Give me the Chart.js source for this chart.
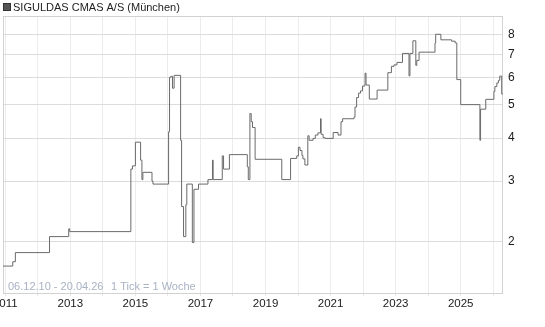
<!DOCTYPE html>
<html>
<head>
<meta charset="utf-8">
<script src="https://cdn.jsdelivr.net/npm/chart.js@4/dist/chart.umd.min.js"></script>
<style>
  html, body { margin: 0; padding: 0; background: #fff; }
  #wrap { width: 545px; height: 327px; position: relative; }
</style>
</head>
<body>
<div id="wrap"><canvas id="c" width="545" height="327"></canvas></div>
<script>
const seriesName = 'SIGULDAS CMAS A/S (München)';
const rangeText = '06.12.10 - 20.04.26';
const tickText = '1 Tick = 1 Woche';

// decimal-year dates of each price change
const dates = [
  2010.93, 2011.23, 2011.31, 2012.36, 2012.95, 2012.98, 2014.86, 2014.91, 2015.00, 2015.16,
  2015.20, 2015.23, 2015.51, 2015.54, 2016.02, 2016.05, 2016.09, 2016.14, 2016.19, 2016.39,
  2016.42, 2016.48, 2016.55, 2016.58, 2016.75, 2016.80, 2016.94, 2017.23, 2017.37, 2017.39,
  2017.67, 2017.71, 2017.89, 2018.44, 2018.47, 2018.52, 2018.56, 2018.60, 2018.68, 2019.50,
  2019.77, 2019.96, 2020.01, 2020.06, 2020.12, 2020.15, 2020.21, 2020.30, 2020.34, 2020.46,
  2020.53, 2020.61, 2020.69, 2020.71, 2020.77, 2020.83, 2021.08, 2021.23, 2021.32, 2021.37,
  2021.72, 2021.75, 2021.80, 2021.86, 2021.92, 2021.98, 2022.05, 2022.06, 2022.09, 2022.19,
  2022.43, 2022.76, 2022.87, 2022.95, 2023.04, 2023.21, 2023.41, 2023.44, 2023.53, 2023.62,
  2023.65, 2023.72, 2024.21, 2024.23, 2024.39, 2024.72, 2024.83, 2024.88, 2025.00, 2025.59,
  2025.61, 2025.77, 2026.02, 2026.05, 2026.11, 2026.16, 2026.20, 2026.26, 2026.30
];
const prices = [
  1.70, 1.75, 1.86, 2.07, 2.18, 2.14, 3.25, 3.32, 3.89, 3.45,
  3.03, 3.18, 3.00, 2.94, 4.17, 6.00, 6.04, 5.58, 6.08, 3.94,
  2.53, 2.07, 2.56, 2.94, 1.99, 2.84, 2.94, 3.03, 3.45, 3.03,
  3.55, 3.25, 3.58, 3.30, 3.03, 4.71, 4.46, 4.29, 3.47, 3.03,
  3.49, 3.55, 3.76, 3.68, 3.56, 3.48, 3.34, 4.06, 3.94, 3.99,
  4.08, 4.14, 4.55, 4.10, 4.01, 3.99, 4.15, 4.08, 4.46, 4.55,
  4.60, 4.92, 5.24, 5.40, 5.48, 5.66, 5.70, 6.17, 5.70, 5.19,
  5.51, 6.19, 6.46, 6.52, 6.63, 7.04, 6.06, 7.04, 7.66, 6.50,
  6.72, 7.10, 7.55, 8.00, 7.71, 7.64, 7.55, 5.91, 5.00, 3.94,
  4.85, 5.18, 5.46, 5.64, 5.78, 5.88, 6.05, 5.37, 5.37
];

const yTicks = [2, 3, 4, 5, 6, 7, 8];
const xTickYears = [2011, 2012, 2013, 2014, 2015, 2016, 2017, 2018, 2019, 2020, 2021, 2022, 2023, 2024, 2025, 2026];
const xTickLabels = ['2011', '', '2013', '', '2015', '', '2017', '', '2019', '', '2021', '', '2023', '', '2025', ''];

const FONT = '"Liberation Sans", Arial, sans-serif';

const decor = {
  id: 'decor',
  beforeDatasetsDraw(chart) {
    const { ctx, chartArea: a } = chart;
    ctx.save();
    ctx.strokeStyle = '#d2d2d2';
    ctx.lineWidth = 1;
    ctx.strokeRect(Math.round(a.left) + 0.5, Math.round(a.top) + 0.5,
                   Math.round(a.right - a.left) - 1, Math.round(a.bottom - a.top));
    ctx.restore();
  },
  afterDraw(chart) {
    const { ctx } = chart;
    ctx.save();
    // legend
    ctx.fillStyle = '#555';
    ctx.fillRect(3, 3, 8, 8);
    ctx.strokeStyle = '#333';
    ctx.lineWidth = 1;
    ctx.strokeRect(3.5, 3.5, 7, 7);
    ctx.fillStyle = '#222';
    ctx.font = '11px ' + FONT;
    ctx.textBaseline = 'middle';
    ctx.textAlign = 'left';
    ctx.fillText(chart.data.datasets[0].label, 13, 7.5);
    // footer
    ctx.fillStyle = '#a9b2c3';
    ctx.font = '11px ' + FONT;
    ctx.fillText(rangeText, 8, 287);
    ctx.fillText(tickText, 111, 287);
    ctx.restore();
  }
};

new Chart(document.getElementById('c'), {
  type: 'line',
  data: {
    datasets: [{
      label: seriesName,
      data: dates.map((d, i) => ({ x: d, y: prices[i] })),
      borderColor: '#6a6a6a',
      borderWidth: 1,
      pointRadius: 0,
      stepped: true,
      fill: false
    }]
  },
  options: {
    responsive: false,
    animation: false,
    events: [],
    layout: { padding: { left: 3, top: 16, right: 0, bottom: 0 } },
    plugins: { legend: { display: false }, tooltip: { enabled: false } },
    scales: {
      x: {
        type: 'linear',
        min: 2010.93,
        max: 2026.30,
        afterBuildTicks: (s) => { s.ticks = xTickYears.map(v => ({ value: v })); },
        afterFit: (s) => { s.paddingLeft = 0; s.paddingRight = 0; s.height = 34; },
        grid: { color: '#ececec', lineWidth: 1, drawTicks: true, tickLength: 3, tickColor: '#e6e6e6' },
        border: { display: false },
        ticks: {
          autoSkip: false,
          maxRotation: 0,
          padding: 1,
          color: '#1a1a1a',
          font: { family: FONT, size: 11.5 },
          callback: (v) => { const i = xTickYears.indexOf(v); return i >= 0 ? xTickLabels[i] : ''; }
        }
      },
      y: {
        type: 'logarithmic',
        position: 'right',
        min: 1.42,
        max: 9.04,
        afterBuildTicks: (s) => { s.ticks = yTicks.map(v => ({ value: v })); },
        afterFit: (s) => { s.width = 42; s.paddingTop = 0; s.paddingBottom = 0; },
        grid: { color: '#dcdcdc', lineWidth: 1, drawTicks: false },
        border: { display: false },
        ticks: {
          padding: 5,
          color: '#1a1a1a',
          font: { family: FONT, size: 12 },
          callback: (v) => String(v)
        }
      }
    }
  },
  plugins: [decor]
});
</script>
</body>
</html>
